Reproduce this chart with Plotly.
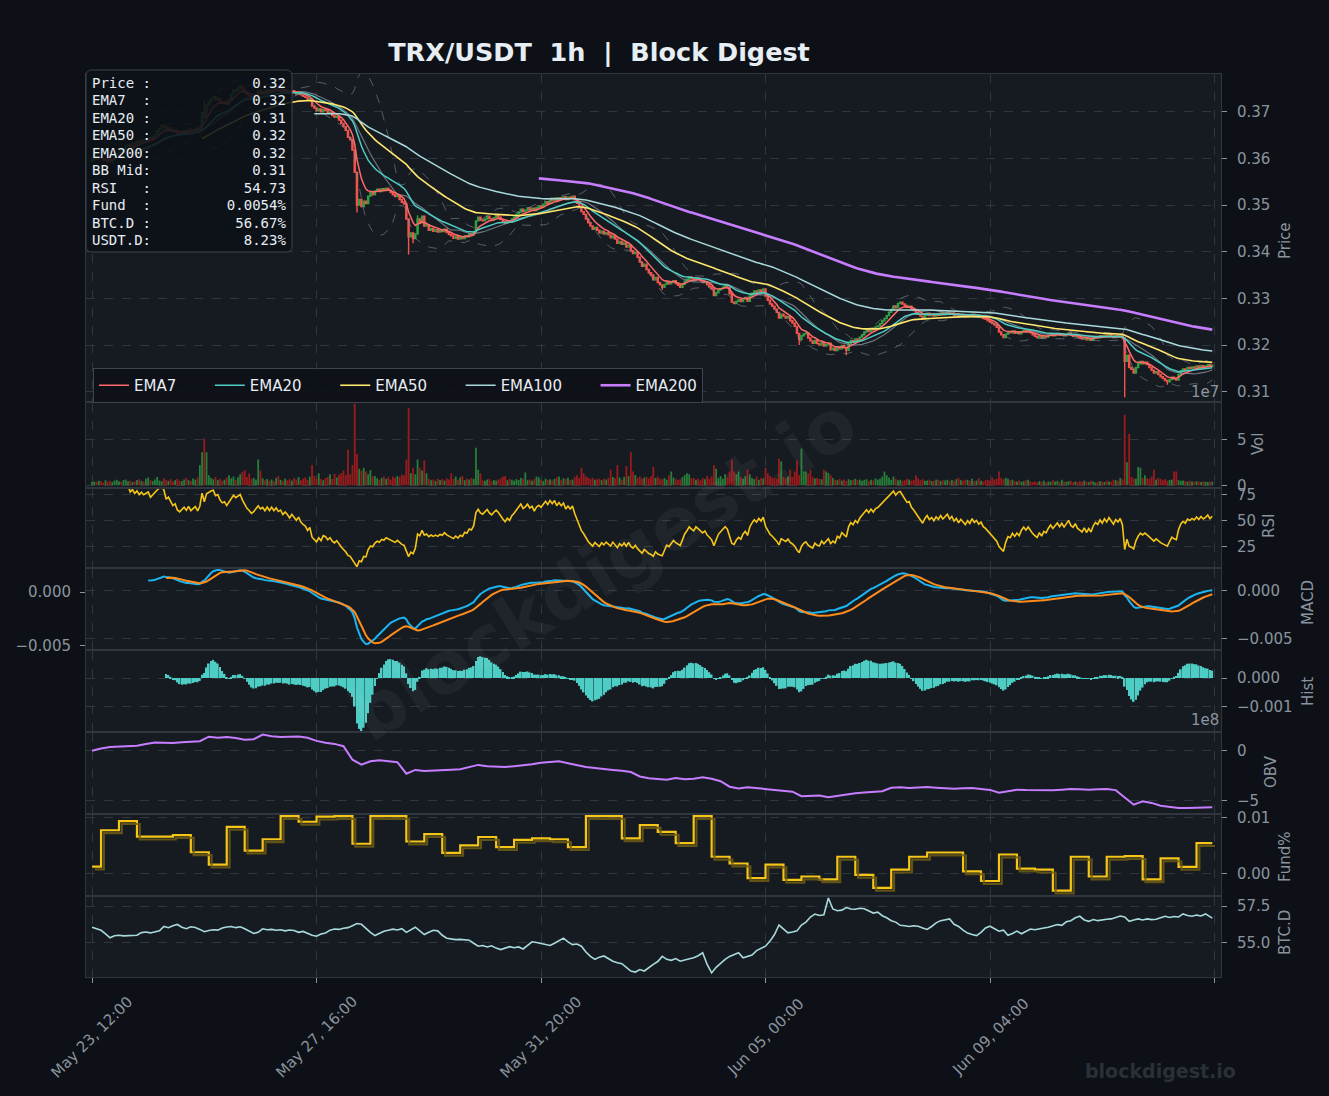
import pandas as pd
import plotly.graph_objects as go

W, H = 1329, 1096

# ---------------- data ----------------
close = [
    0.3597, 0.3601, 0.3598, 0.3603, 0.3600, 0.3596, 0.3599, 0.3594, 0.3592, 0.3598,
    0.3605, 0.3610, 0.3614, 0.3611, 0.3620, 0.3626, 0.3630, 0.3625, 0.3632, 0.3629,
    0.3636, 0.3633, 0.3639, 0.3637, 0.3641, 0.3644, 0.3640, 0.3646, 0.3651, 0.3658,
    0.3664, 0.3671, 0.3668, 0.3660, 0.3665, 0.3661, 0.3657, 0.3660, 0.3654, 0.3652,
    0.3655, 0.3659, 0.3656, 0.3662, 0.3658, 0.3661, 0.3664, 0.3660, 0.3667, 0.3698,
    0.3688, 0.3715, 0.3722, 0.3728, 0.3732, 0.3725, 0.3729, 0.3722, 0.3718, 0.3721,
    0.3716, 0.3726, 0.3738, 0.3747, 0.3744, 0.3751, 0.3755, 0.3748, 0.3742, 0.3737,
    0.3734, 0.3730, 0.3733, 0.3738, 0.3745, 0.3741, 0.3744, 0.3740, 0.3747, 0.3743,
    0.3749, 0.3745, 0.3750, 0.3746, 0.3748, 0.3743, 0.3747, 0.3744, 0.3740, 0.3745,
    0.3741, 0.3738, 0.3742, 0.3736, 0.3733, 0.3731, 0.3725, 0.3728, 0.3712, 0.3708,
    0.3702, 0.3706, 0.3700, 0.3705, 0.3703, 0.3697, 0.3699, 0.3692, 0.3688, 0.3690,
    0.3682, 0.3675, 0.3668, 0.3660, 0.3645, 0.3640, 0.3618, 0.3570, 0.3500, 0.3512,
    0.3497, 0.3508, 0.3503, 0.3519, 0.3527, 0.3522, 0.3530, 0.3534, 0.3529, 0.3535,
    0.3531, 0.3536, 0.3532, 0.3527, 0.3522, 0.3518, 0.3521, 0.3512, 0.3506, 0.3502,
    0.3470, 0.3432, 0.3440, 0.3428, 0.3438, 0.3470, 0.3462, 0.3476, 0.3455, 0.3458,
    0.3446, 0.3450, 0.3444, 0.3447, 0.3442, 0.3446, 0.3443, 0.3448, 0.3441, 0.3437,
    0.3434, 0.3429, 0.3433, 0.3427, 0.3431, 0.3428, 0.3434, 0.3432, 0.3438, 0.3436,
    0.3442, 0.3466, 0.3474, 0.3468, 0.3466, 0.3470, 0.3476, 0.3471, 0.3468, 0.3473,
    0.3477, 0.3474, 0.3469, 0.3465, 0.3461, 0.3466, 0.3463, 0.3470, 0.3474, 0.3480,
    0.3485, 0.3491, 0.3486, 0.3489, 0.3494, 0.3490, 0.3493, 0.3488, 0.3495, 0.3498,
    0.3496, 0.3502, 0.3507, 0.3504, 0.3512, 0.3509, 0.3515, 0.3510, 0.3516, 0.3513,
    0.3518, 0.3512, 0.3517, 0.3514, 0.3519, 0.3511, 0.3504, 0.3497, 0.3486, 0.3480,
    0.3470, 0.3462, 0.3455, 0.3448, 0.3452, 0.3446, 0.3440, 0.3444, 0.3438, 0.3441,
    0.3436, 0.3430, 0.3434, 0.3427, 0.3418, 0.3422, 0.3416, 0.3419, 0.3410, 0.3414,
    0.3402, 0.3396, 0.3399, 0.3388, 0.3378, 0.3369, 0.3373, 0.3362, 0.3355, 0.3350,
    0.3340, 0.3345, 0.3334, 0.3329, 0.3324, 0.3330, 0.3336, 0.3331, 0.3335, 0.3338,
    0.3332, 0.3328, 0.3324, 0.3330, 0.3337, 0.3341, 0.3346, 0.3342, 0.3339, 0.3344,
    0.3341, 0.3338, 0.3334, 0.3336, 0.3329, 0.3325, 0.3320, 0.3306, 0.3312, 0.3318,
    0.3321, 0.3324, 0.3327, 0.3323, 0.3310, 0.3292, 0.3289, 0.3294, 0.3297, 0.3293,
    0.3299, 0.3302, 0.3294, 0.3305, 0.3311, 0.3316, 0.3312, 0.3318, 0.3314, 0.3320,
    0.3305, 0.3296, 0.3288, 0.3283, 0.3277, 0.3270, 0.3258, 0.3266, 0.3262, 0.3258,
    0.3261, 0.3252, 0.3247, 0.3240, 0.3225, 0.3212, 0.3220, 0.3224, 0.3226, 0.3215,
    0.3209, 0.3204, 0.3210, 0.3203, 0.3200, 0.3206, 0.3198, 0.3201, 0.3204, 0.3190,
    0.3193, 0.3188, 0.3196, 0.3192, 0.3199, 0.3194, 0.3189, 0.3203, 0.3210, 0.3206,
    0.3213, 0.3209, 0.3217, 0.3222, 0.3228, 0.3233, 0.3229, 0.3236, 0.3232, 0.3239,
    0.3241, 0.3246, 0.3252, 0.3257, 0.3263, 0.3270, 0.3276, 0.3284, 0.3280, 0.3289,
    0.3292, 0.3288, 0.3285, 0.3281, 0.3283, 0.3277, 0.3274, 0.3270, 0.3266, 0.3262,
    0.3258, 0.3264, 0.3268, 0.3263, 0.3266, 0.3262, 0.3267, 0.3264, 0.3269, 0.3265,
    0.3268, 0.3271, 0.3266, 0.3269, 0.3264, 0.3267, 0.3262, 0.3266, 0.3263, 0.3260,
    0.3264, 0.3261, 0.3266, 0.3262, 0.3264, 0.3260, 0.3262, 0.3257, 0.3255, 0.3252,
    0.3249, 0.3246, 0.3243, 0.3238, 0.3228, 0.3222, 0.3216, 0.3223, 0.3228, 0.3226,
    0.3230, 0.3225, 0.3228, 0.3224, 0.3229, 0.3232, 0.3228, 0.3231, 0.3226, 0.3222,
    0.3219, 0.3216, 0.3220, 0.3215, 0.3219, 0.3217, 0.3221, 0.3224, 0.3220, 0.3223,
    0.3225, 0.3221, 0.3224, 0.3220, 0.3223, 0.3226, 0.3221, 0.3219, 0.3222, 0.3217,
    0.3215, 0.3213, 0.3216, 0.3211, 0.3214, 0.3210, 0.3215, 0.3218, 0.3216, 0.3220,
    0.3217, 0.3221, 0.3218, 0.3222, 0.3219, 0.3216, 0.3220, 0.3218, 0.3221, 0.3215,
    0.3165, 0.3178, 0.3152, 0.3148, 0.3140, 0.3152, 0.3160, 0.3165, 0.3160, 0.3163,
    0.3158, 0.3152, 0.3146, 0.3140, 0.3143, 0.3137, 0.3132, 0.3128, 0.3124, 0.3121,
    0.3126, 0.3131, 0.3127, 0.3125, 0.3137, 0.3145, 0.3149, 0.3146, 0.3152, 0.3150,
    0.3153, 0.3151, 0.3155, 0.3152, 0.3156, 0.3153, 0.3155, 0.3158, 0.3154, 0.3157,
]
first_open = 0.3594
wick_low = {118: 0.3484, 141: 0.3394, 143: 0.3418, 254: 0.3318, 315: 0.3200,
            336: 0.3178, 460: 0.3088, 479: 0.3115}
wick_high = {50: 0.3722, 66: 0.3760, 145: 0.3478}

volume_e7 = [
    0.35, 0.42, 0.38, 0.50, 0.45, 0.30, 0.55, 0.40, 0.48, 0.36, 0.52, 0.60, 0.44, 0.38, 0.56, 0.62, 0.45, 0.50, 0.35, 0.42,
    0.58, 0.66, 0.48, 0.40, 0.72, 0.85, 0.55, 0.46, 0.62, 0.90, 0.52, 0.44, 0.76, 0.58, 0.48, 0.66, 0.40, 0.55, 0.70, 0.50,
    0.45, 0.62, 0.80, 0.55, 0.48, 0.75, 0.60, 0.85, 2.20, 3.60, 5.10, 3.60, 1.10, 0.80, 0.65, 0.90, 0.55, 0.70, 0.48, 0.62,
    0.85, 1.10, 0.75, 0.95, 0.60, 0.88, 1.20, 1.45, 1.65, 0.90, 1.30, 0.70, 0.80, 0.60, 2.80, 1.60, 0.75, 0.55, 0.68, 0.50,
    0.62, 0.45, 0.80, 1.00, 0.58, 0.48, 0.72, 0.55, 0.66, 0.50, 0.78, 0.62, 0.90, 0.55, 0.70, 0.85, 0.60, 0.95, 2.20, 1.00,
    0.75, 1.30, 0.68, 0.55, 0.80, 0.92, 1.20, 0.70, 1.25, 0.85, 1.15, 1.30, 1.60, 1.10, 3.90, 1.20, 2.20, 8.90, 3.40, 1.80,
    1.60, 1.90, 1.50, 1.20, 1.65, 0.95, 1.00, 0.75, 0.60, 0.80, 0.95, 0.70, 0.88, 0.62, 0.95, 0.80, 1.00, 0.90, 1.15, 1.10,
    2.80, 8.40, 1.30, 1.90, 1.20, 2.80, 1.90, 1.60, 2.70, 1.30, 0.70, 0.55, 0.62, 0.48, 0.70, 0.58, 0.66, 0.50, 0.75, 0.62,
    1.30, 0.70, 0.95, 0.60, 0.85, 1.00, 0.55, 0.72, 0.62, 0.80, 0.70, 4.10, 1.70, 1.30, 0.55, 0.48, 0.62, 0.70, 0.45, 0.58,
    0.50, 0.62, 0.75, 0.95, 1.00, 0.55, 0.70, 0.60, 0.48, 0.66, 0.58, 0.80, 0.72, 1.40, 0.55, 0.62, 0.50, 0.70, 0.95, 0.88,
    0.60, 0.48, 0.72, 0.58, 0.66, 0.52, 0.70, 0.85, 0.95, 0.60, 0.75, 0.68, 0.82, 0.55, 0.62, 0.90, 1.10, 0.80, 1.90, 1.30,
    0.95, 0.85, 0.70, 0.80, 0.60, 0.66, 0.72, 0.55, 0.70, 0.62, 0.80, 1.70, 0.90, 0.75, 2.20, 0.85, 0.60, 0.90, 2.10, 1.00,
    3.60, 1.50, 1.10, 0.80, 0.95, 0.70, 0.85, 0.90, 0.75, 1.00, 2.00, 0.80, 0.95, 0.70, 0.65, 0.80, 0.60, 1.10, 1.50, 0.85,
    0.70, 0.55, 0.66, 0.90, 1.10, 1.30, 1.20, 0.75, 0.80, 0.60, 0.72, 0.55, 0.80, 0.66, 1.00, 0.70, 0.95, 2.20, 1.80, 0.80,
    1.00, 0.70, 1.20, 0.85, 1.50, 2.80, 1.50, 1.20, 1.50, 0.90, 0.70, 1.00, 1.70, 1.20, 0.80, 0.66, 0.95, 0.60, 0.80, 0.75,
    1.90, 1.30, 1.00, 0.85, 0.80, 0.70, 2.90, 2.60, 0.90, 0.75, 0.95, 1.70, 0.90, 1.50, 2.70, 1.10, 4.00, 1.50, 1.50, 1.30,
    1.70, 0.90, 0.75, 0.80, 0.70, 0.65, 1.70, 1.50, 1.35, 1.10, 0.80, 0.60, 0.55, 0.70, 0.50, 0.62, 0.48, 0.66, 0.55, 0.60,
    0.70, 0.55, 0.62, 0.50, 0.58, 0.66, 0.48, 0.60, 0.52, 0.75, 0.62, 0.70, 0.95, 1.50, 1.10, 0.85, 0.60, 0.95, 0.70, 0.55,
    0.60, 0.48, 0.55, 0.70, 0.62, 0.50, 0.58, 1.10, 0.75, 0.55, 0.66, 0.48, 0.52, 0.60, 0.45, 0.50, 0.62, 0.58, 0.48, 0.55,
    0.52, 0.60, 0.45, 0.58, 0.50, 0.66, 0.80, 0.55, 0.48, 0.62, 0.58, 0.50, 0.70, 0.45, 0.52, 0.75, 0.48, 0.40, 0.55, 0.60,
    0.48, 0.85, 0.62, 0.70, 1.50, 0.80, 0.66, 0.82, 0.70, 0.55, 0.60, 0.45, 0.40, 0.52, 0.38, 0.45, 0.55, 0.60, 0.42, 0.35,
    0.40, 0.32, 0.45, 0.38, 0.50, 0.30, 0.42, 0.36, 0.55, 0.40, 0.48, 0.35, 0.60, 0.42, 0.38, 0.45, 0.50, 0.33, 0.40, 0.36,
    0.45, 0.38, 0.52, 0.40, 0.35, 0.48, 0.42, 0.30, 0.38, 0.45, 0.40, 0.36, 0.50, 0.42, 0.38, 0.60, 0.55, 0.48, 0.80, 0.65,
    7.70, 2.50, 5.60, 0.90, 0.75, 0.70, 2.00, 1.90, 0.80, 1.10, 0.75, 0.70, 0.95, 1.70, 0.62, 0.80, 0.70, 0.55, 0.66, 0.50,
    0.58, 0.62, 1.50, 1.50, 0.55, 0.48, 0.52, 0.45, 0.40, 0.50, 0.42, 0.38, 0.45, 0.40, 0.35, 0.42, 0.38, 0.36, 0.40, 0.38,
]

# funding rate (%), one value per 8h funding window (windows start at hour 0, 4, 12, 20, ...)
funding_pct = [
    0.00125, 0.0077, 0.0093, 0.00655, 0.00655, 0.00685, 0.0038, 0.0016, 0.0083, 0.0041,
    0.0061, 0.0102, 0.0092, 0.0101, 0.0102, 0.0053, 0.0102, 0.0102, 0.0057, 0.0070,
    0.0037, 0.0050, 0.0065, 0.0047, 0.0060, 0.00625, 0.0061, 0.0047, 0.0102, 0.0102,
    0.00625, 0.0086, 0.0074, 0.0054, 0.0102, 0.0030, 0.0018, -0.0008, 0.0016, -0.0011,
    -0.0005, -0.0010, 0.0030, -0.0002, -0.0025, 0.0007, 0.0030, 0.00375, 0.00375, 0.0004,
    -0.0013, 0.0034, 0.0009, 0.0007, -0.0030, 0.0030, -0.0005, 0.0030, 0.0031, -0.0010,
    0.0027, 0.0012, 0.0054,
]

# OBV (x 1e8), sampled every 4 hours plus the last hour
obv_e8 = [
    0.00, 0.22, 0.36, 0.40, 0.44, 0.50, 0.66, 0.82, 0.80, 0.77,
    0.84, 0.90, 0.95, 1.40, 1.30, 1.36, 1.28, 1.10, 1.15, 1.62,
    1.44, 1.38, 1.40, 1.42, 1.30, 0.98, 0.80, 0.68, 0.45, -0.90,
    -1.40, -1.05, -0.95, -1.08, -1.15, -2.30, -1.92, -2.02, -2.00, -1.96,
    -1.90, -1.85, -1.62, -1.42, -1.56, -1.60, -1.63, -1.55, -1.46, -1.35,
    -1.20, -1.12, -1.06, -1.25, -1.45, -1.62, -1.72, -1.85, -1.92, -2.00,
    -2.13, -2.58, -2.75, -2.82, -2.90, -2.73, -2.85, -2.80, -2.66, -2.80,
    -3.05, -3.60, -3.78, -3.65, -3.73, -3.80, -3.88, -3.96, -4.10, -4.55,
    -4.50, -4.48, -4.65, -4.50, -4.38, -4.25, -4.18, -4.12, -4.06, -3.70,
    -3.66, -3.73, -3.70, -3.64, -3.70, -3.78, -3.80, -3.76, -3.73, -3.82,
    -3.92, -4.20, -4.02, -3.90, -3.94, -3.97, -3.95, -3.96, -3.90, -3.84,
    -3.86, -3.90, -3.86, -3.84, -3.94, -4.70, -5.40, -5.05, -5.22, -5.50,
    -5.62, -5.72, -5.74, -5.72, -5.70,
    -5.66,
]

# BTC dominance (%), sampled every 2 hours plus the last hour
btc_dominance = [
    56.05, 55.95, 55.84, 55.60, 55.33, 55.47, 55.50, 55.46, 55.48, 55.52,
    55.50, 55.68, 55.72, 55.66, 55.74, 55.80, 56.10, 56.02, 56.15, 56.24,
    56.05, 55.95, 56.08, 56.03, 55.90, 55.74, 55.82, 55.88, 55.85, 56.00,
    56.06, 56.10, 56.02, 56.08, 55.95, 55.80, 55.62, 55.70, 55.94, 55.88,
    55.90, 55.84, 55.88, 55.80, 55.86, 55.82, 55.70, 55.76, 55.62, 55.50,
    55.43, 55.58, 55.66, 55.85, 55.93, 55.90, 55.98, 56.02, 56.15, 56.30,
    56.25, 55.95, 55.70, 55.48, 55.65, 55.78, 55.84, 55.92, 55.86, 55.95,
    55.70, 55.90, 56.05, 55.80, 55.55, 55.70, 55.84, 55.80, 55.50, 55.30,
    55.24, 55.20, 55.22, 55.18, 55.16, 54.95, 54.75, 54.80, 54.70, 54.78,
    54.62, 54.52, 54.62, 54.72, 54.64, 54.70, 54.56, 54.82, 55.05, 55.00,
    54.95, 54.88, 54.80, 54.95, 55.10, 55.30, 55.05, 54.86, 54.90, 54.75,
    54.35, 54.05, 53.85, 54.00, 54.08, 53.90, 53.72, 53.62, 53.55, 53.30,
    53.05, 52.98, 53.15, 53.05, 53.30, 53.50, 53.70, 54.05, 53.85, 53.78,
    53.90, 53.72, 53.80, 53.88, 53.96, 54.10, 54.30, 53.50, 52.92, 53.30,
    53.60, 53.85, 54.05, 54.15, 54.30, 53.95, 54.05, 54.15, 54.45, 54.62,
    54.75, 55.10, 55.55, 56.20, 55.90, 55.66, 55.72, 55.80, 56.20, 56.40,
    56.75, 56.95, 56.85, 56.90, 58.05, 57.30, 57.18, 57.22, 57.40, 57.30,
    57.28, 57.35, 57.32, 57.15, 57.02, 57.08, 56.84, 56.70, 56.50, 56.40,
    56.18, 56.15, 56.10, 56.15, 56.12, 56.00, 55.90, 56.10, 56.35, 56.50,
    56.55, 56.62, 56.25, 56.10, 55.85, 55.65, 55.55, 55.48, 55.70, 56.00,
    56.12, 55.95, 55.78, 55.85, 55.50, 55.62, 55.78, 55.60, 55.78, 55.93,
    55.88, 55.96, 56.00, 56.05, 56.15, 56.23, 56.18, 56.42, 56.50, 56.70,
    56.80, 56.55, 56.45, 56.58, 56.50, 56.56, 56.60, 56.62, 56.70, 56.82,
    56.75, 56.45, 56.55, 56.62, 56.55, 56.62, 56.57, 56.60, 56.70, 56.80,
    56.72, 56.78, 56.75, 56.96, 56.85, 56.80, 56.88, 56.82, 56.96, 56.80,
    56.67,
]

x_tick_hours = [0, 100, 200, 300, 400, 500]
x_tick_labels = ["May 23, 12:00", "May 27, 16:00", "May 31, 20:00",
                 "Jun 05, 00:00", "Jun 09, 04:00", ""]

info_rows = [("Price", "0.32"), ("EMA7", "0.32"), ("EMA20", "0.31"), ("EMA50", "0.32"),
             ("EMA200", "0.32"), ("BB Mid", "0.31"), ("RSI", "54.73"), ("Fund", "0.0054%"),
             ("BTC.D", "56.67%"), ("USDT.D", "8.23%")]

title_text = "TRX/USDT\u00a0 1h\u00a0 |\u00a0 Block Digest"
panel_titles = ["Price", "Vol", "RSI", "MACD", "Hist", "OBV", "Fund%", "BTC.D"]

# ---------------- derived series ----------------
n = len(close)
assert n == 500 and len(volume_e7) == 500
hours = list(range(n))
opens = [first_open] + close[:-1]
highs = [max(o, c) for o, c in zip(opens, close)]
lows = [min(o, c) for o, c in zip(opens, close)]
for k, v in wick_low.items():
    lows[k] = v
for k, v in wick_high.items():
    highs[k] = v

s = pd.Series(close)


def ema(span):
    return s.ewm(span=span, adjust=False, min_periods=span).mean()


ema_spans = [7, 20, 50, 100, 200]
emas = {p: ema(p) for p in ema_spans}
bb_mid = s.rolling(20).mean()
bb_std = s.rolling(20).std(ddof=0)
bb_up = bb_mid + 2 * bb_std
bb_lo = bb_mid - 2 * bb_std

delta = s.diff()
gain = delta.clip(lower=0).ewm(alpha=1 / 14, adjust=False, min_periods=14).mean()
loss = (-delta.clip(upper=0)).ewm(alpha=1 / 14, adjust=False, min_periods=14).mean()
rsi = 100 - 100 / (1 + gain / loss)

ema12 = s.ewm(span=12, adjust=False, min_periods=12).mean()
ema26 = s.ewm(span=26, adjust=False, min_periods=26).mean()
macd = ema12 - ema26
signal = macd.ewm(span=9, adjust=False, min_periods=9).mean()
hist = macd - signal

fund_hours = [0] + list(range(4, n, 8))
assert len(fund_hours) == len(funding_pct)
obv_hours = list(range(0, n, 4)) + [n - 1]
assert len(obv_hours) == len(obv_e8)
btc_hours = list(range(0, n, 2)) + [n - 1]
assert len(btc_hours) == len(btc_dominance)

# ---------------- style ----------------
BG = "#0d1117"
PANEL_BG = "#161b22"
GRID = "#30363d"
SPINE = "#30363d"
TXT = "#8b949e"
WHITE = "#e6edf3"
FONT = "DejaVu Sans"
UP = "#2ea043"
DOWN = "#f0544c"
ema_colors = {7: "#ff6b6b", 20: "#4ecdc4", 50: "#ffe66d", 100: "#a8dadc", 200: "#c77dff"}
ema_widths = {7: 1.5, 20: 1.5, 50: 1.6, 100: 1.5, 200: 2.6}
LEGEND_PAD = "\u00a0" * 6

PANELS = [(74, 401), (403, 487), (489, 567), (569, 649), (651, 731), (733, 813), (815, 895), (897, 977)]
XL, XR = 86, 1221
X_RANGE = [-2.7, 502.9]
PX_PER_HOUR = (XR - XL) / (X_RANGE[1] - X_RANGE[0])

fig = go.Figure()

# price panel
fig.add_trace(go.Scatter(x=hours, y=bb_up, mode="lines", line=dict(color="rgba(139,148,158,0.55)", width=1, dash="dash"),
                         showlegend=False, xaxis="x", yaxis="y"))
fig.add_trace(go.Scatter(x=hours, y=bb_lo, mode="lines", line=dict(color="rgba(139,148,158,0.55)", width=1, dash="dash"),
                         showlegend=False, xaxis="x", yaxis="y"))
fig.add_trace(go.Scatter(x=hours, y=bb_mid, mode="lines", line=dict(color="rgba(139,148,158,0.75)", width=1.2),
                         showlegend=False, xaxis="x", yaxis="y"))
fig.add_trace(go.Candlestick(x=hours, open=opens, high=highs, low=lows, close=close,
                             increasing=dict(line=dict(color=UP, width=1.4), fillcolor=UP),
                             decreasing=dict(line=dict(color=DOWN, width=1.4), fillcolor=DOWN),
                             whiskerwidth=0, showlegend=False, xaxis="x", yaxis="y"))
for j, p in enumerate(ema_spans):
    label = f"EMA{p}" + (LEGEND_PAD if j < len(ema_spans) - 1 else "")
    fig.add_trace(go.Scatter(x=hours, y=emas[p], mode="lines", name=label,
                             line=dict(color=ema_colors[p], width=ema_widths[p]),
                             showlegend=True, xaxis="x", yaxis="y"))

# volume
vol_colors = ["rgba(46,160,67,0.75)" if c >= o else "rgba(170,28,28,0.9)" for o, c in zip(opens, close)]
fig.add_trace(go.Bar(x=hours, y=volume_e7, marker=dict(color=vol_colors, line=dict(width=0)), width=0.8,
                     showlegend=False, xaxis="x2", yaxis="y2"))
# RSI
fig.add_trace(go.Scatter(x=hours, y=rsi, mode="lines", line=dict(color="#f5c518", width=1.6),
                         showlegend=False, xaxis="x3", yaxis="y3"))
# MACD
fig.add_trace(go.Scatter(x=hours, y=macd, mode="lines", line=dict(color="#1cb5f0", width=2),
                         showlegend=False, xaxis="x4", yaxis="y4"))
fig.add_trace(go.Scatter(x=hours, y=signal, mode="lines", line=dict(color="#ff8c1a", width=2),
                         showlegend=False, xaxis="x4", yaxis="y9"))
# Hist
fig.add_trace(go.Bar(x=hours, y=hist, marker=dict(color="#4ecdc4", line=dict(width=0)), width=0.75,
                     showlegend=False, xaxis="x5", yaxis="y5"))
# OBV
fig.add_trace(go.Scatter(x=obv_hours, y=obv_e8, mode="lines", line=dict(color="#c77dff", width=2),
                         showlegend=False, xaxis="x6", yaxis="y6"))
# Funding (drop shadow drawn on offset overlay axes, then the line)
fx = fund_hours + [n - 1]
fy = funding_pct + [funding_pct[-1]]
fig.add_trace(go.Scatter(x=fx, y=fy, mode="lines", line=dict(color="rgba(110,92,20,0.85)", width=2.2, shape="hv"),
                         showlegend=False, xaxis="x9", yaxis="y10"))
fig.add_trace(go.Scatter(x=fx, y=fy, mode="lines", line=dict(color="#f5c518", width=2.2, shape="hv"),
                         showlegend=False, xaxis="x7", yaxis="y7"))
# BTC.D
fig.add_trace(go.Scatter(x=btc_hours, y=btc_dominance, mode="lines", line=dict(color="#a8dadc", width=1.6),
                         showlegend=False, xaxis="x8", yaxis="y8"))

# ---------------- axes ----------------
y_cfg = [
    dict(range=[0.30801, 0.37808], tickvals=[0.31, 0.32, 0.33, 0.34, 0.35, 0.36, 0.37], tickformat=".2f"),
    dict(range=[-0.19, 8.97], tickvals=[0, 5], tickformat="d"),
    dict(range=[4.9, 80.5], tickvals=[25, 50, 75], tickformat="d"),
    dict(range=[-0.0061, 0.00227], tickvals=[-0.005, 0.0], tickformat=".3f"),
    dict(range=[-0.00185, 0.000944], tickvals=[-0.001, 0.0], tickformat=".3f"),
    dict(range=[-6.23, 1.77], tickvals=[-5, 0], tickformat="d"),
    dict(range=[-0.00378, 0.0104], tickvals=[0.0, 0.01], tickformat=".2f"),
    dict(range=[52.64, 58.12], tickvals=[55.0, 57.5], tickformat=".1f"),
]

layout = dict(
    width=W, height=H, margin=dict(l=0, r=0, t=0, b=0, autoexpand=False),
    paper_bgcolor=BG, plot_bgcolor=PANEL_BG,
    font=dict(family=FONT, color=TXT, size=15),
    showlegend=True, hovermode=False,
    title=dict(text=f"<b>{title_text}</b>", x=599 / W, xanchor="center", y=1 - 52 / H, yanchor="middle",
               font=dict(family=FONT, size=25.5, color=WHITE)),
    legend=dict(orientation="h", x=93 / W, y=1 - 368 / H, xanchor="left", yanchor="top",
                bgcolor="rgba(13,17,23,0.9)", bordercolor="#3d444d", borderwidth=1,
                font=dict(family=FONT, size=15, color=WHITE), itemwidth=30),
)

for k in range(1, 9):
    top, bot = PANELS[k - 1]
    xa = dict(domain=[XL / W, XR / W], anchor=f"y{k}", range=X_RANGE, tickvals=x_tick_hours,
              showgrid=True, gridcolor=GRID, griddash="dash", gridwidth=1,
              showline=True, mirror=True, linecolor=SPINE, linewidth=1, zeroline=False,
              showticklabels=False, ticks="outside" if k == 8 else "", ticklen=5, tickcolor=TXT,
              automargin=False, rangeslider=dict(visible=False), fixedrange=True)
    if k > 1:
        xa["matches"] = "x"
    ya = dict(domain=[1 - bot / H, 1 - top / H], anchor=f"x{k}", side="right",
              showgrid=True, gridcolor=GRID, griddash="dash", gridwidth=1,
              showline=True, mirror=True, linecolor=SPINE, linewidth=1, zeroline=False,
              ticks="outside", ticklen=5, tickcolor=TXT, automargin=False, ticklabelstandoff=7,
              tickfont=dict(family=FONT, size=15, color=TXT), fixedrange=True, **y_cfg[k - 1])
    layout["xaxis" if k == 1 else f"xaxis{k}"] = xa
    layout["yaxis" if k == 1 else f"yaxis{k}"] = ya

# left-hand MACD scale (signal line)
layout["yaxis9"] = dict(overlaying="y4", anchor="x4", side="left", range=[-0.00528, 0.00213],
                        tickvals=[-0.005, 0.0], tickformat=".3f", showgrid=False, zeroline=False,
                        showline=False, ticks="outside", ticklen=5, tickcolor=TXT, automargin=False,
                        ticklabelstandoff=6, tickfont=dict(family=FONT, size=15, color=TXT), fixedrange=True)
# shadow axes for the funding line: offset ~2.8 px right and down
fund_lo, fund_hi = y_cfg[6]["range"]
fund_top, fund_bot = PANELS[6]
dy = 2.8 * (fund_hi - fund_lo) / (fund_bot - fund_top)
dx = 2.8 / PX_PER_HOUR
layout["xaxis9"] = dict(overlaying="x7", anchor="y10", range=[X_RANGE[0] - dx, X_RANGE[1] - dx],
                        visible=False, fixedrange=True, automargin=False)
layout["yaxis10"] = dict(overlaying="y7", anchor="x9", range=[fund_lo + dy, fund_hi + dy],
                         visible=False, fixedrange=True, automargin=False)

fig.update_layout(**layout)

# ---------------- annotations & shapes ----------------
ann = []
shapes = []
# watermark
ann.append(dict(text="<b>blockdigest.io</b>", x=603 / W, y=1 - 568 / H, xref="paper", yref="paper",
                xanchor="center", yanchor="middle",
                showarrow=False, textangle=-32, font=dict(family=FONT, size=73, color="rgba(255,255,255,0.045)")))
ann.append(dict(text="<b>blockdigest.io</b>", x=1160 / W, y=1 - 1071 / H, xref="paper", yref="paper",
                xanchor="center", yanchor="middle",
                showarrow=False, font=dict(family=FONT, size=19, color="#2a3038")))


def rounded_box(x0, y0, x1, y1, r):
    rx, ry = r / W, r / H
    X0, X1 = x0 / W, x1 / W
    Yt, Yb = 1 - y0 / H, 1 - y1 / H
    return (f"M {X0 + rx},{Yt} L {X1 - rx},{Yt} Q {X1},{Yt} {X1},{Yt - ry} "
            f"L {X1},{Yb + ry} Q {X1},{Yb} {X1 - rx},{Yb} L {X0 + rx},{Yb} "
            f"Q {X0},{Yb} {X0},{Yb + ry} L {X0},{Yt - ry} Q {X0},{Yt} {X0 + rx},{Yt} Z")


# info box
shapes.append(dict(type="path", path=rounded_box(86, 70, 292, 252, 6), xref="paper", yref="paper",
                   fillcolor="rgba(13,17,23,0.88)", line=dict(color="#3d444d", width=1), layer="above"))
for j, (lab, val) in enumerate(info_rows):
    line = f"{lab:<6}:{val:>16}".replace(" ", "\u00a0")
    ann.append(dict(text=line, x=90 / W, y=1 - (83 + 17.45 * j) / H, xref="paper", yref="paper",
                    xanchor="left", yanchor="middle", align="left", showarrow=False,
                    font=dict(family="DejaVu Sans Mono", size=14, color=WHITE)))
# panel y-axis titles
title_pos = [(1285, 241), (1258, 444), (1269, 526), (1308, 603), (1308, 692), (1271, 772), (1285, 857), (1285, 933)]
for t, (px, py) in zip(panel_titles, title_pos):
    ann.append(dict(text=t, x=px / W, y=1 - py / H, xref="paper", yref="paper", showarrow=False,
                    xanchor="center", yanchor="middle",
                    textangle=-90, font=dict(family=FONT, size=15, color=TXT)))
# offset texts
ann.append(dict(text="1e7", x=1221 / W, y=1 - 392 / H, xref="paper", yref="paper", xanchor="right",
                yanchor="middle", showarrow=False, font=dict(family=FONT, size=15, color=TXT)))
ann.append(dict(text="1e8", x=1221 / W, y=1 - 720 / H, xref="paper", yref="paper", xanchor="right",
                yanchor="middle", showarrow=False, font=dict(family=FONT, size=15, color=TXT)))
# rotated date labels, centred under their ticks
for hv, lab in zip(x_tick_hours, x_tick_labels):
    if lab:
        ann.append(dict(text=lab, x=hv, xref="x8", y=1 - 1037 / H, yref="paper", showarrow=False,
                        xanchor="center", yanchor="middle", textangle=-45,
                        font=dict(family=FONT, size=15, color=TXT)))
fig.update_layout(annotations=ann, shapes=shapes)

fig.write_html("out.html")
